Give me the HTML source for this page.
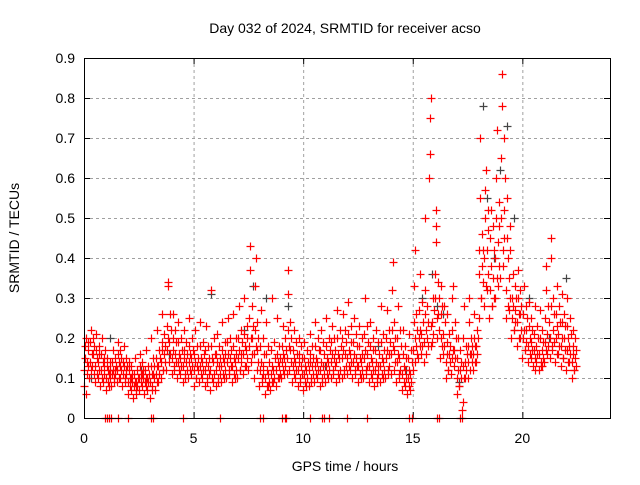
<!DOCTYPE html>
<html><head><meta charset="utf-8"><style>
body{margin:0;background:#fff}
svg text{font-family:"Liberation Sans",sans-serif;font-size:14px;fill:#000}
</style></head><body>
<svg id="c" width="640" height="480" xmlns="http://www.w3.org/2000/svg"></svg>
<script>
const xTicks=[0,5,10,15,20];
const yTicks=[0,0.1,0.2,0.3,0.4,0.5,0.6,0.7,0.8,0.9];
const yTickLabels=["0","0.1","0.2","0.3","0.4","0.5","0.6","0.7","0.8","0.9"];
const binHours=[0,0.25,0.5,0.75,1,1.25,1.5,1.75,2,2.25,2.5,2.75,3,3.25,3.5,3.75,4,4.25,4.5,4.75,5,5.25,5.5,5.75,6,6.25,6.5,6.75,7,7.25,7.5,7.75,8,8.25,8.5,8.75,9,9.25,9.5,9.75,10,10.25,10.5,10.75,11,11.25,11.5,11.75,12,12.25,12.5,12.75,13,13.25,13.5,13.75,14,14.25,14.5,14.75,15,15.25,15.5,15.75,16,16.25,16.5,16.75,17,17.25,17.5,17.75,18,18.25,18.5,18.75,19,19.25,19.5,19.75,20,20.25,20.5,20.75,21,21.25,21.5,21.75,22,22.25,22.5,22.75];
const redVals=[
[0.08,0.12,0.15,0.18,0.2,0.06],[0.1,0.14,0.19,0.22,0.12,0.16],[0.09,0.13,0.17,0.21,0.15,0.11],[0.08,0.12,0.16,0.2,0.1,0.14],
[0.07,0.1,0.13,0.15,0.12,0.09],[0.08,0.11,0.14,0.17,0.12,0.1],[0.09,0.12,0.16,0.19,0.14,0.1],[0.08,0.11,0.14,0.18,0.13,0.1],
[0.06,0.09,0.12,0.14,0.1,0.08],[0.05,0.08,0.11,0.15,0.09,0.07],[0.07,0.1,0.13,0.16,0.11,0.09],[0.06,0.09,0.12,0.17,0.1,0.08],
[0.05,0.09,0.13,0.2,0.11,0.07],[0.07,0.11,0.15,0.22,0.13,0.09],[0.1,0.14,0.19,0.26,0.17,0.12],[0.12,0.17,0.23,0.33,0.34,0.2],
[0.11,0.15,0.2,0.26,0.17,0.13],[0.1,0.14,0.19,0.24,0.16,0.12],[0.09,0.13,0.17,0.22,0.15,0.11],[0.1,0.14,0.18,0.25,0.16,0.12],
[0.08,0.12,0.16,0.22,0.14,0.1],[0.09,0.13,0.18,0.24,0.15,0.11],[0.08,0.12,0.17,0.23,0.14,0.1],[0.07,0.12,0.18,0.32,0.15,0.1],
[0.08,0.12,0.16,0.21,0.14,0.1],[0.09,0.13,0.17,0.24,0.15,0.11],[0.1,0.14,0.19,0.25,0.16,0.12],[0.09,0.13,0.18,0.26,0.15,0.11],
[0.1,0.15,0.2,0.28,0.17,0.12],[0.11,0.16,0.21,0.3,0.18,0.13],[0.12,0.18,0.25,0.37,0.43,0.2],[0.1,0.16,0.22,0.33,0.4,0.18],
[0.08,0.12,0.18,0.27,0.14,0.1],[0.06,0.1,0.16,0.24,0.12,0.08],[0.07,0.11,0.17,0.3,0.13,0.09],[0.08,0.12,0.16,0.25,0.14,0.1],
[0.1,0.14,0.18,0.23,0.16,0.12],[0.11,0.15,0.22,0.31,0.37,0.18],[0.09,0.13,0.17,0.22,0.15,0.11],[0.08,0.12,0.16,0.2,0.14,0.1],
[0.07,0.11,0.15,0.19,0.13,0.09],[0.08,0.12,0.16,0.21,0.14,0.1],[0.09,0.13,0.18,0.24,0.15,0.11],[0.08,0.12,0.17,0.22,0.14,0.1],
[0.09,0.13,0.18,0.25,0.15,0.11],[0.1,0.14,0.19,0.23,0.16,0.12],[0.09,0.14,0.2,0.27,0.16,0.11],[0.1,0.15,0.2,0.26,0.17,0.12],
[0.11,0.15,0.21,0.29,0.17,0.13],[0.1,0.14,0.19,0.25,0.16,0.12],[0.09,0.13,0.18,0.23,0.15,0.11],[0.1,0.15,0.21,0.3,0.17,0.12],
[0.09,0.13,0.18,0.24,0.15,0.11],[0.08,0.12,0.17,0.22,0.14,0.1],[0.09,0.13,0.19,0.28,0.15,0.11],[0.1,0.15,0.2,0.27,0.17,0.12],
[0.11,0.16,0.22,0.32,0.39,0.18],[0.09,0.14,0.2,0.28,0.16,0.11],[0.07,0.11,0.16,0.22,0.13,0.09],[0.06,0.1,0.15,0.21,0.12,0.08],
[0.12,0.17,0.24,0.33,0.42,0.2],[0.15,0.2,0.27,0.36,0.22,0.18],[0.14,0.19,0.26,0.32,0.5,0.22],[0.6,0.66,0.75,0.8,0.23,0.18],
[0.3,0.36,0.44,0.52,0.48,0.25],[0.15,0.2,0.26,0.33,0.28,0.18],[0.1,0.14,0.19,0.26,0.16,0.12],[0.11,0.15,0.22,0.3,0.33,0.17],
[0.06,0.1,0.15,0.2,0.12,0.08],[0.02,0.04,0.13,0.2,0.28,0.1],[0.1,0.14,0.18,0.24,0.3,0.16],[0.12,0.16,0.2,0.26,0.18,0.14],
[0.25,0.36,0.42,0.55,0.7,0.3],[0.28,0.4,0.5,0.57,0.62,0.33],[0.25,0.32,0.45,0.52,0.38,0.28],[0.3,0.4,0.5,0.6,0.72,0.35],
[0.35,0.5,0.65,0.78,0.86,0.42],[0.25,0.32,0.45,0.55,0.4,0.28],[0.2,0.25,0.3,0.36,0.28,0.22],[0.18,0.24,0.3,0.37,0.26,0.2],
[0.15,0.2,0.26,0.33,0.22,0.17],[0.14,0.18,0.23,0.29,0.2,0.16],[0.13,0.17,0.21,0.28,0.15,0.12],[0.12,0.16,0.2,0.27,0.14,0.13],
[0.14,0.19,0.25,0.32,0.38,0.17],[0.15,0.2,0.28,0.4,0.45,0.18],[0.14,0.2,0.26,0.33,0.23,0.16],[0.13,0.18,0.24,0.31,0.2,0.15],
[0.12,0.17,0.23,0.3,0.2,0.14],[0.1,0.14,0.18,0.22,0.16,0.12]];
const redVals2=[
[0.11,0.14,0.17,0.13,0.19],[0.13,0.16,0.2,0.11,0.18],[0.1,0.14,0.18,0.12,0.16],[0.09,0.13,0.15,0.11,0.17],
[0.08,0.11,0.14,0.1,0.12],[0.09,0.12,0.15,0.11,0.13],[0.1,0.13,0.17,0.12,0.15],[0.09,0.12,0.15,0.11,0.13],
[0.07,0.1,0.13,0.09,0.11],[0.06,0.09,0.12,0.08,0.1],[0.08,0.11,0.14,0.1,0.12],[0.07,0.1,0.13,0.09,0.11],
[0.08,0.11,0.15,0.1,0.13],[0.09,0.13,0.17,0.11,0.15],[0.12,0.16,0.21,0.14,0.18],[0.14,0.19,0.26,0.16,0.22],
[0.12,0.16,0.22,0.14,0.19],[0.11,0.15,0.2,0.13,0.17],[0.1,0.14,0.19,0.12,0.16],[0.11,0.15,0.2,0.13,0.17],
[0.1,0.13,0.18,0.12,0.15],[0.1,0.14,0.19,0.12,0.16],[0.09,0.13,0.18,0.11,0.15],[0.09,0.14,0.2,0.11,0.16],
[0.09,0.13,0.18,0.11,0.15],[0.1,0.14,0.19,0.12,0.16],[0.11,0.15,0.2,0.13,0.17],[0.1,0.14,0.2,0.12,0.16],
[0.12,0.16,0.22,0.14,0.19],[0.13,0.17,0.23,0.15,0.2],[0.14,0.2,0.28,0.16,0.23],[0.12,0.17,0.24,0.14,0.2],
[0.09,0.13,0.2,0.11,0.16],[0.08,0.11,0.18,0.09,0.14],[0.09,0.12,0.19,0.1,0.15],[0.1,0.13,0.18,0.11,0.15],
[0.11,0.15,0.2,0.13,0.17],[0.12,0.17,0.24,0.14,0.2],[0.1,0.14,0.19,0.12,0.16],[0.09,0.13,0.18,0.11,0.15],
[0.08,0.12,0.17,0.1,0.14],[0.09,0.13,0.18,0.11,0.15],[0.1,0.14,0.2,0.12,0.17],[0.09,0.13,0.19,0.11,0.16],
[0.1,0.14,0.2,0.12,0.17],[0.11,0.15,0.2,0.13,0.17],[0.1,0.15,0.22,0.12,0.18],[0.11,0.16,0.22,0.13,0.19],
[0.12,0.16,0.23,0.14,0.19],[0.11,0.15,0.21,0.13,0.18],[0.1,0.14,0.2,0.12,0.16],[0.11,0.16,0.23,0.13,0.19],
[0.1,0.14,0.2,0.12,0.17],[0.09,0.13,0.19,0.11,0.16],[0.1,0.14,0.21,0.12,0.17],[0.11,0.16,0.22,0.13,0.19],
[0.12,0.17,0.24,0.14,0.2],[0.1,0.15,0.22,0.12,0.18],[0.08,0.12,0.18,0.1,0.15],[0.07,0.11,0.17,0.09,0.14],
[0.14,0.18,0.26,0.16,0.22],[0.16,0.21,0.29,0.18,0.24],[0.16,0.2,0.28,0.18,0.24],[0.19,0.24,0.3,0.21,0.27],
[0.2,0.26,0.34,0.22,0.3],[0.16,0.21,0.28,0.18,0.24],[0.12,0.16,0.21,0.14,0.18],[0.13,0.17,0.24,0.15,0.2],
[0.08,0.12,0.17,0.1,0.14],[0.1,0.14,0.18,0.12,0.16],[0.12,0.16,0.2,0.14,0.18],[0.14,0.18,0.22,0.16,0.2],
[0.3,0.38,0.46,0.34,0.42],[0.32,0.42,0.52,0.36,0.47],[0.28,0.35,0.48,0.3,0.42],[0.33,0.44,0.54,0.38,0.48],
[0.38,0.52,0.7,0.45,0.6],[0.27,0.35,0.48,0.3,0.42],[0.22,0.27,0.33,0.24,0.3],[0.2,0.26,0.32,0.22,0.28],
[0.17,0.22,0.28,0.19,0.25],[0.15,0.19,0.25,0.17,0.22],[0.14,0.18,0.23,0.16,0.2],[0.13,0.17,0.22,0.15,0.19],
[0.16,0.21,0.28,0.18,0.24],[0.17,0.22,0.3,0.19,0.26],[0.16,0.21,0.28,0.18,0.24],[0.15,0.2,0.26,0.17,0.23],
[0.14,0.18,0.25,0.16,0.21],[0.12,0.15,0.2,0.13,0.17]];
const grayHours=[0.3,1.2,2.6,3.9,5.8,7.3,7.7,8.3,9.3,11.0,13.4,14.7,15.4,15.9,16.1,16.4,17.1,18.2,18.4,18.7,19.0,19.3,19.6,20.3,21.2,22.0];
const grayVals=[0.1,0.2,0.12,0.16,0.31,0.22,0.33,0.3,0.28,0.13,0.18,0.12,0.3,0.36,0.28,0.26,0.09,0.78,0.55,0.4,0.62,0.73,0.5,0.3,0.2,0.35];
const zeroHours=[0.95,1.05,1.15,1.25,1.55,2.0,3.05,3.15,4.5,6.2,8.05,8.15,9.05,9.15,9.2,10.3,10.85,10.95,11.2,12.0,12.9,14.85,14.95,16.1,16.2,17.15,17.25];

const L=84,R=610,T=58,B=418,XMAX=24,YMAX=0.9;
const sx=h=>L+h/XMAX*(R-L), sy=v=>B-v/YMAX*(B-T);
const svg=document.getElementById('c'),NS="http://www.w3.org/2000/svg";
function mk(tag,a,p){const e=document.createElementNS(NS,tag);for(const k in a)e.setAttribute(k,a[k]);(p||svg).appendChild(e);return e;}
const grid=mk('g',{stroke:'#a0a0a0','stroke-dasharray':'3,3','stroke-width':1});


yTicks.forEach((v,i)=>{
  if(i>0&&i<yTicks.length-1)mk('line',{x1:L,x2:R,y1:sy(v)+.5,y2:sy(v)+.5},grid);
  mk('line',{x1:L,x2:L+6,y1:sy(v)+.5,y2:sy(v)+.5,stroke:'#000'});
  mk('line',{x1:R-6,x2:R,y1:sy(v)+.5,y2:sy(v)+.5,stroke:'#000'});
  const lab=mk('text',{x:L-9,y:sy(v)+5,'text-anchor':'end'});lab.textContent=yTickLabels[i];
  
  
});
xTicks.forEach(h=>{
  if(h>0)mk('line',{x1:sx(h)+.5,x2:sx(h)+.5,y1:T,y2:B},grid);
  mk('line',{x1:sx(h)+.5,x2:sx(h)+.5,y1:B,y2:B-6,stroke:'#000'});
  mk('line',{x1:sx(h)+.5,x2:sx(h)+.5,y1:T,y2:T+6,stroke:'#000'});
  const lab=mk('text',{x:sx(h),y:B+25,'text-anchor':'middle'});lab.textContent=String(h);
  
  
});
function plus(g,h,v,c){const x=Math.round(sx(h))+.5,y=Math.round(sy(v))+.5;
  mk('path',{d:'M'+(x-4)+' '+y+'H'+(x+4)+'M'+x+' '+(y-4)+'V'+(y+4),stroke:c,'stroke-width':1.2,fill:'none'},g);}
const gg=mk('g',{});


grayHours.forEach((h,i)=>plus(gg,h,grayVals[i],'#444'));
const rg=mk('g',{});


binHours.forEach((h,i)=>{
  (redVals[i]||[]).forEach((v,j)=>plus(rg,h+j*0.02,v,'#ff0000'));
  (redVals2[i]||[]).forEach((v,j)=>plus(rg,h+0.125+j*0.02,v,'#ff0000'));
});
zeroHours.forEach(h=>plus(rg,h,0,'#ff0000'));
const fr=mk('rect',{x:L+.5,y:T+.5,width:R-L,height:B-T,fill:'none',stroke:'#000'});


const title=mk('text',{x:345,y:33,'text-anchor':'middle'});title.textContent='Day 032 of 2024, SRMTID for receiver acso';


const xt=mk('text',{x:345,y:471,'text-anchor':'middle'});xt.textContent='GPS time / hours';


const yt=mk('text',{x:0,y:0,'text-anchor':'middle',transform:'translate(19,238) rotate(-90)'});yt.textContent='SRMTID / TECUs';


</script>
</body></html>
